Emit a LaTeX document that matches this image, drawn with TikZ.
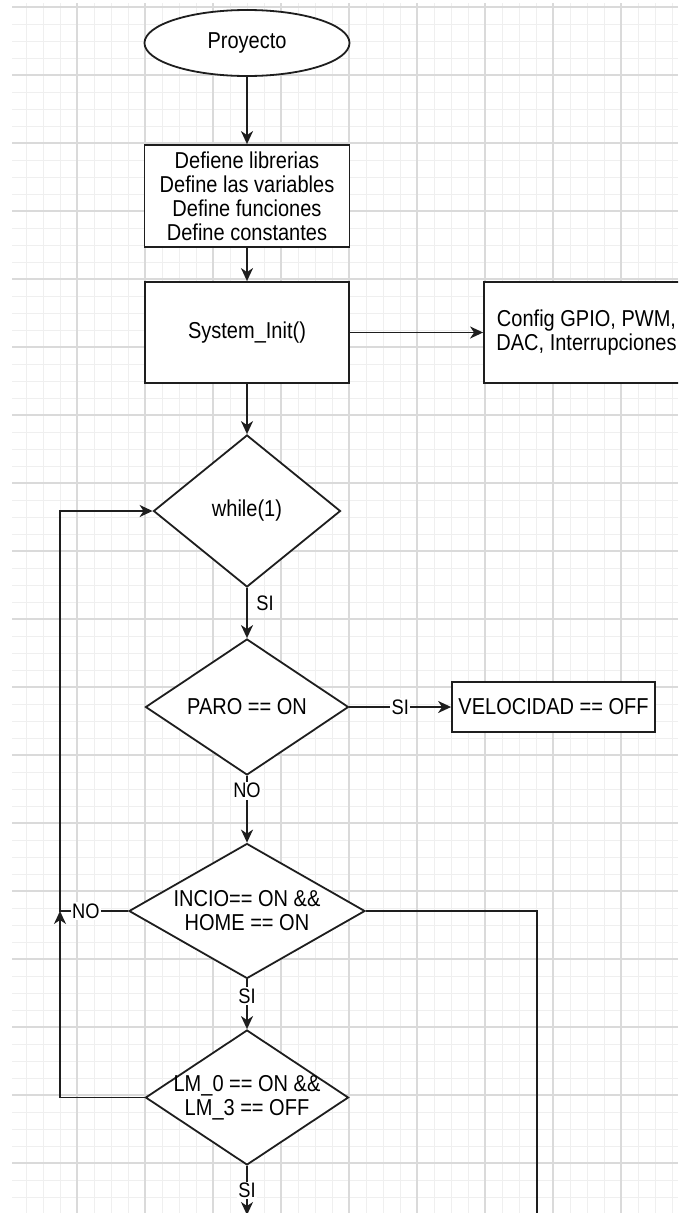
\documentclass[tikz,border=0pt]{standalone}
\usepackage{fontspec}
\setmainfont[FakeStretch=0.87]{Liberation Sans}
\usetikzlibrary{arrows.meta,shapes.geometric}
\definecolor{gmaj}{HTML}{DADADA}
\definecolor{gmin}{HTML}{EFEFEF}
\definecolor{ink}{HTML}{1E1E1E}
\tikzset{
  nodefont/.style={font=\fontsize{23}{24}\selectfont},
  lblfont/.style={font=\fontsize{21}{22}\selectfont},
  box/.style={draw=ink, line width=1.8pt, fill=white, rectangle, inner sep=0pt, align=center, nodefont},
  dia/.style={draw=ink, line width=1.8pt, fill=white, diamond, inner sep=0pt},
  ellbox/.style={draw=ink, line width=1.8pt, fill=white, ellipse, inner sep=0pt, nodefont},
  txt/.style={align=center, nodefont, inner sep=0pt},
  conn/.style={draw=ink, line width=1.8pt},
  arr/.style={conn, -{Stealth[length=13pt,width=12pt,inset=4pt]}},
  elbl/.style={lblfont, fill=white, inner sep=1.5pt, text=black},
  elblr/.style={lblfont, inner sep=1.5pt, text=black},
  minorline/.style={draw=gmin, line width=1pt},
  majorline/.style={draw=gmaj, line width=1.1pt},
}
\begin{document}
\begin{tikzpicture}[x=1pt,y=-1pt]
\useasboundingbox (0,0) rectangle (678,1213);
\clip (0,0) rectangle (678,1213);
\fill[white] (0,0) rectangle (678,1213);
% grid
\foreach \k in {1,...,39} { \draw[minorline] ({9+17*\k},3) -- ({9+17*\k},1213); }
\foreach \k in {0,...,71} { \draw[minorline] (12,{7+17*\k}) -- (678,{7+17*\k}); }
\foreach \k in {1,...,9} { \draw[majorline] ({9+68*\k},3) -- ({9+68*\k},1213); }
\foreach \k in {0,...,17} { \draw[majorline] (12,{7+68*\k}) -- (678,{7+68*\k}); }

% nodes
\node[ellbox, minimum width=205pt, minimum height=66pt] (start) at (247,43) {Proyecto};
\node[box, minimum width=205pt, minimum height=102pt] (defs) at (247,196)
  {Defiene librerias\\Define las variables\\Define funciones\\Define constantes};
\node[box, minimum width=204pt, minimum height=101pt] (init) at (247,332.5) {System\_Init()};
\node[box, minimum width=205pt, minimum height=101pt] (cfg) at (586.5,332.5)
  {Config GPIO, PWM,\\DAC, Interrupciones};
\node[dia, minimum width=187pt, minimum height=152pt,
  label={[txt]center:{while(1)}}] (w) at (247,511) {};
\node[dia, minimum width=203pt, minimum height=136pt,
  label={[txt]center:{PARO == ON}}] (paro) at (247,707) {};
\node[box, minimum width=203pt, minimum height=50pt] (vel) at (553.5,707) {VELOCIDAD == OFF};
\node[dia, minimum width=236pt, minimum height=135pt,
  label={[txt]center:{INCIO== ON \&\&\\HOME == ON}}] (incio) at (247,911) {};
\node[dia, minimum width=203pt, minimum height=135pt,
  label={[txt]center:{LM\_0 == ON \&\&\\LM\_3 == OFF}}] (lm) at (247,1097.5) {};

\coordinate (j) at (60,911);
\coordinate (r) at (537,1230);
\coordinate (b) at (247,1215);

% connectors
\draw[arr] (start) -- (defs);
\draw[arr] (defs) -- (init);
\draw[arr] (init) -- (cfg);
\draw[arr] (init) -- (w);
\draw[arr] (w) -- node[elblr, right, pos=0.31, xshift=7pt] {SI} (paro);
\draw[arr] (paro) -- node[elbl] {SI} (vel);
\draw[arr] (paro) -- node[elbl, pos=0.22] {NO} (incio);
\draw[arr] (incio.west) -- node[elbl, pos=0.62] {NO} (j) |- (w.west);
\draw[arr] (incio) -- node[elbl, pos=0.33] {SI} (lm);
\draw[arr] (lm.west) -| (j);
\draw[conn] (incio.east) -| (r);
\draw[arr] (lm) -- node[elbl, pos=0.5] {SI} (b);
\end{tikzpicture}
\end{document}
